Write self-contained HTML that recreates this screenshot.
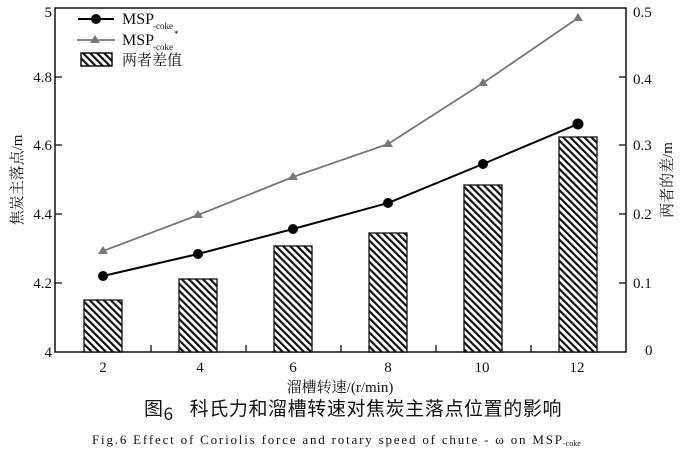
<!DOCTYPE html>
<html><head><meta charset="utf-8"><style>
body{margin:0;background:#fff;}
svg text{font-family:"Liberation Serif","Noto Serif CJK SC",serif;fill:#111;}
</style></head><body>
<svg width="682" height="457" viewBox="0 0 682 457" xmlns="http://www.w3.org/2000/svg">
<defs><pattern id="h" width="5" height="5" patternUnits="userSpaceOnUse" patternTransform="rotate(-45)"><rect width="5" height="5" fill="#fff"/><rect width="2.2" height="5" fill="#111"/></pattern></defs>
<rect x="55" y="8" width="571" height="344" fill="none" stroke="#111" stroke-width="1.5"/>
<g stroke="#111" stroke-width="1.3">
<line x1="55" y1="77" x2="62" y2="77"/><line x1="55" y1="145" x2="62" y2="145"/><line x1="55" y1="214" x2="62" y2="214"/><line x1="55" y1="283" x2="62" y2="283"/>
<line x1="626" y1="77" x2="619" y2="77"/><line x1="626" y1="145" x2="619" y2="145"/><line x1="626" y1="214" x2="619" y2="214"/><line x1="626" y1="283" x2="619" y2="283"/>
<line x1="151" y1="352" x2="151" y2="345"/><line x1="246" y1="352" x2="246" y2="345"/><line x1="341" y1="352" x2="341" y2="345"/><line x1="436" y1="352" x2="436" y2="345"/><line x1="531" y1="352" x2="531" y2="345"/>
</g>
<g fill="url(#h)" stroke="#111" stroke-width="1.3">
<rect x="84" y="300" width="38" height="52"/><rect x="179" y="279" width="38" height="73"/><rect x="274" y="246" width="38" height="106"/><rect x="369" y="233" width="38" height="119"/><rect x="464" y="185" width="38" height="167"/><rect x="559" y="137" width="38" height="215"/>
</g>
<polyline points="103,251 198,215 293,177 388,144 483,83 578,18" fill="none" stroke="#777" stroke-width="1.8"/>
<g fill="#777"><path d="M103,246l5,8h-10z"/><path d="M198,210l5,8h-10z"/><path d="M293,172l5,8h-10z"/><path d="M388,139l5,8h-10z"/><path d="M483,78l5,8h-10z"/><path d="M578,13l5,8h-10z"/></g>
<polyline points="103,276 198,254 293,229 388,203 483,164 578,124" fill="none" stroke="#000" stroke-width="2"/>
<g fill="#000"><circle cx="103" cy="276" r="5"/><circle cx="198" cy="254" r="5"/><circle cx="293" cy="229" r="5"/><circle cx="388" cy="203" r="5"/><circle cx="483" cy="164" r="5"/><circle cx="578" cy="124" r="5.5"/></g>
<line x1="78" y1="19" x2="114" y2="19" stroke="#000" stroke-width="2"/><circle cx="96" cy="19" r="5"/>
<line x1="77" y1="40" x2="115" y2="40" stroke="#777" stroke-width="1.8"/><path d="M95,35l5,8h-10z" fill="#777"/>
<rect x="81" y="53" width="31" height="13" fill="url(#h)" stroke="#111" stroke-width="1.5"/>
<text x="122" y="24" font-size="16">MSP</text><text x="153" y="29" font-size="9">-coke</text>
<text x="122" y="45" font-size="16">MSP</text><text x="153" y="50" font-size="9">-coke</text><text x="174" y="37" font-size="9">*</text>
<text x="122" y="65" font-size="15">两者差值</text>
<g font-size="15" text-anchor="end"><text x="52" y="17">5</text><text x="52" y="82">4.8</text><text x="52" y="150">4.6</text><text x="52" y="219">4.4</text><text x="52" y="288">4.2</text><text x="52" y="357">4</text></g>
<g font-size="15"><text x="633" y="17">0.5</text><text x="633" y="84">0.4</text><text x="633" y="150">0.3</text><text x="633" y="219">0.2</text><text x="633" y="288">0.1</text><text x="645" y="355">0</text></g>
<g font-size="15" text-anchor="middle"><text x="103" y="372">2</text><text x="200" y="372">4</text><text x="293" y="372">6</text><text x="388" y="372">8</text><text x="482" y="372">10</text><text x="577" y="372">12</text></g>
<text x="340" y="392" font-size="15" text-anchor="middle">溜槽转速/(r/min)</text>
<text transform="translate(22,180) rotate(-90)" font-size="15" text-anchor="middle">焦炭主落点/m</text>
<text transform="translate(672,180) rotate(-90)" font-size="15" text-anchor="middle">两者的差/m</text>
<text x="144" y="415" font-size="19" letter-spacing="0.6" style="font-family:'Noto Sans CJK SC',sans-serif">图<tspan font-size="17" dy="5">6</tspan><tspan dx="16" dy="-5">科氏力和溜槽转速对焦炭主落点位置的影响</tspan></text>
<text x="92" y="444" font-size="13" textLength="470" lengthAdjust="spacing">Fig.6   Effect of Coriolis force and rotary speed of chute - ω on MSP</text><text x="563" y="446" font-size="8">-coke</text>
</svg>
</body></html>
